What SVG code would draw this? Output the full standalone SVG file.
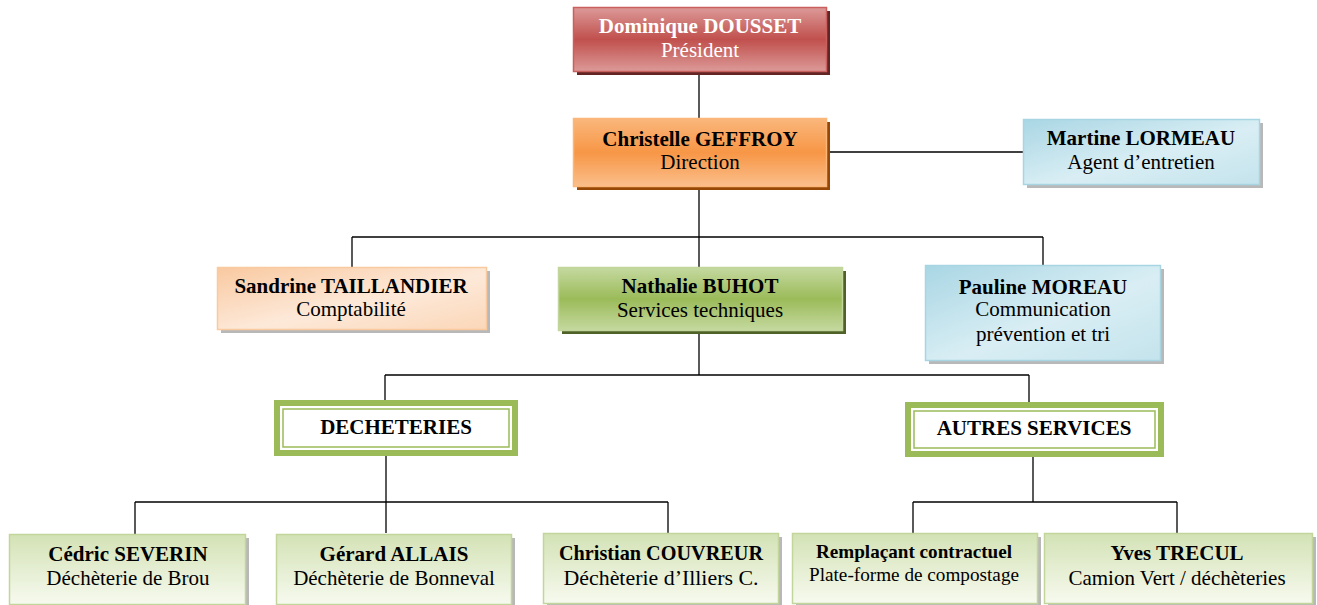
<svg xmlns="http://www.w3.org/2000/svg" width="1317" height="605" viewBox="0 0 1317 605">
<defs>
<linearGradient id="gRed" x1="0" y1="0" x2="0" y2="1"><stop offset="0" stop-color="#dc9a98"/><stop offset="0.5" stop-color="#c0504d"/><stop offset="1" stop-color="#dc9a98"/></linearGradient>
<linearGradient id="gOrange" x1="0" y1="0" x2="0" y2="1"><stop offset="0" stop-color="#fab77c"/><stop offset="0.5" stop-color="#f79646"/><stop offset="1" stop-color="#fbbf8c"/></linearGradient>
<linearGradient id="gGreen" x1="0" y1="0" x2="0" y2="1"><stop offset="0" stop-color="#c5d9a0"/><stop offset="0.5" stop-color="#9bbb59"/><stop offset="1" stop-color="#c5d9a0"/></linearGradient>
<linearGradient id="gBlue" x1="0" y1="0" x2="1" y2="1"><stop offset="0" stop-color="#a9d6e4"/><stop offset="0.55" stop-color="#d9eef4"/><stop offset="1" stop-color="#c4e3ec"/></linearGradient>
<linearGradient id="gPeach" x1="0" y1="0" x2="1" y2="1"><stop offset="0" stop-color="#f9c9a0"/><stop offset="0.55" stop-color="#fde9d9"/><stop offset="1" stop-color="#fbd7b8"/></linearGradient>
<linearGradient id="gLight" x1="0" y1="0" x2="0" y2="1"><stop offset="0" stop-color="#d3e2b5"/><stop offset="1" stop-color="#f7faef"/></linearGradient>
</defs>
<style>
text{font-family:"Liberation Serif","Times New Roman",serif;font-size:21px;text-anchor:middle;fill:#000}
.b{font-weight:bold}
.w{fill:#fff}
.conn line{stroke:#000;stroke-width:1.3}
.sh{fill:#a6a6a6;opacity:0.8}
.frame{fill:#fff;stroke:#9bbb59;stroke-width:6}
.frame2{fill:none;stroke:#9bbb59;stroke-width:1.5}
.lt{fill:url(#gLight);stroke:#c2d69b;stroke-width:1.5}
</style>
<g id="connectors" class="conn">
<line x1="699" y1="71" x2="699" y2="118"/>
<line x1="826" y1="152" x2="1023" y2="152"/>
<line x1="699" y1="186" x2="699" y2="267"/>
<line x1="352" y1="237" x2="1043" y2="237"/>
<line x1="352" y1="237" x2="352" y2="267"/>
<line x1="1043" y1="237" x2="1043" y2="265"/>
<line x1="699" y1="330" x2="699" y2="375"/>
<line x1="385" y1="375" x2="1029" y2="375"/>
<line x1="385" y1="375" x2="385" y2="400"/>
<line x1="1029" y1="375" x2="1029" y2="402"/>
<line x1="386" y1="456" x2="386" y2="533"/>
<line x1="135" y1="502" x2="668" y2="502"/>
<line x1="135" y1="502" x2="135" y2="534"/>
<line x1="668" y1="502" x2="668" y2="533"/>
<line x1="1033" y1="457" x2="1033" y2="502"/>
<line x1="913" y1="502" x2="1177" y2="502"/>
<line x1="913" y1="502" x2="913" y2="533"/>
<line x1="1177" y1="502" x2="1177" y2="533"/>
</g>
<g id="president">
<rect x="577" y="11" width="253" height="64" fill="#632523"/>
<rect x="573.5" y="7.5" width="253" height="64" fill="url(#gRed)" stroke="#c9605d" stroke-width="1.5"/>
<text x="700" y="33" class="b w">Dominique DOUSSET</text>
<text x="700" y="57" class="w">Président</text>
</g>
<g id="direction">
<rect x="577" y="122" width="253" height="68" fill="#974806"/>
<rect x="573.5" y="118.5" width="253" height="68" fill="url(#gOrange)" stroke="#fbb77a" stroke-width="1.5"/>
<text x="700" y="146" class="b">Christelle GEFFROY</text>
<text x="700" y="169">Direction</text>
</g>
<g id="lormeau">
<rect x="1027" y="123" width="236" height="65" class="sh"/>
<rect x="1023.5" y="119.5" width="236" height="65" fill="url(#gBlue)" stroke="#a8d5e2" stroke-width="1.5"/>
<text x="1141" y="145" class="b">Martine LORMEAU</text>
<text x="1141" y="169">Agent d’entretien</text>
</g>
<g id="taillandier">
<rect x="221" y="271" width="269" height="62" class="sh"/>
<rect x="217.5" y="267.5" width="269" height="62" fill="url(#gPeach)" stroke="#f9c9a0" stroke-width="1.5"/>
<text x="351" y="293" class="b">Sandrine TAILLANDIER</text>
<text x="351" y="316">Comptabilité</text>
</g>
<g id="buhot">
<rect x="562" y="271" width="284" height="63" fill="#4f6228"/>
<rect x="558.5" y="267.5" width="284" height="63" fill="url(#gGreen)" stroke="#c2d69b" stroke-width="1.5"/>
<text x="700" y="293" class="b">Nathalie BUHOT</text>
<text x="700" y="317">Services techniques</text>
</g>
<g id="moreau">
<rect x="929" y="269" width="235" height="95" class="sh"/>
<rect x="925.5" y="265.5" width="235" height="95" fill="url(#gBlue)" stroke="#a8d5e2" stroke-width="1.5"/>
<text x="1043" y="294" class="b">Pauline MOREAU</text>
<text x="1043" y="316">Communication</text>
<text x="1043" y="341">prévention et tri</text>
</g>
<g id="decheteries">
<rect x="277" y="403" width="238" height="50" class="frame"/>
<rect x="283" y="409" width="226" height="38" class="frame2"/>
<text x="396" y="434" class="b">DECHETERIES</text>
</g>
<g id="autres">
<rect x="908" y="405" width="253" height="49" class="frame"/>
<rect x="914" y="411" width="241" height="37" class="frame2"/>
<text x="1034" y="435" class="b">AUTRES SERVICES</text>
</g>
<g id="severin">
<rect x="13" y="538" width="236" height="70" class="sh"/>
<rect x="9.5" y="534.5" width="236" height="70" class="lt"/>
<text x="128" y="561" class="b">Cédric SEVERIN</text>
<text x="128" y="585">Déchèterie de Brou</text>
</g>
<g id="allais">
<rect x="280" y="538" width="235" height="70" class="sh"/>
<rect x="276.5" y="534.5" width="235" height="70" class="lt"/>
<text x="394" y="561" class="b">Gérard ALLAIS</text>
<text x="394" y="585">Déchèterie de Bonneval</text>
</g>
<g id="couvreur">
<rect x="547" y="537" width="235" height="70" class="sh"/>
<rect x="543.5" y="533.5" width="235" height="70" class="lt"/>
<text x="661" y="560" class="b" textLength="204" lengthAdjust="spacingAndGlyphs">Christian COUVREUR</text>
<text x="661" y="585" textLength="195" lengthAdjust="spacingAndGlyphs">Déchèterie d’Illiers C.</text>
</g>
<g id="remplacant">
<rect x="796" y="537" width="245" height="70" class="sh"/>
<rect x="792.5" y="533.5" width="245" height="70" class="lt"/>
<text x="914" y="558" class="b" style="font-size:19px" textLength="196" lengthAdjust="spacingAndGlyphs">Remplaçant contractuel</text>
<text x="914" y="581" style="font-size:19px" textLength="210" lengthAdjust="spacingAndGlyphs">Plate-forme de compostage</text>
</g>
<g id="trecul">
<rect x="1048" y="537" width="268" height="70" class="sh"/>
<rect x="1044.5" y="533.5" width="268" height="70" class="lt"/>
<text x="1177" y="560" class="b">Yves TRECUL</text>
<text x="1177" y="585">Camion Vert / déchèteries</text>
</g>
</svg>
